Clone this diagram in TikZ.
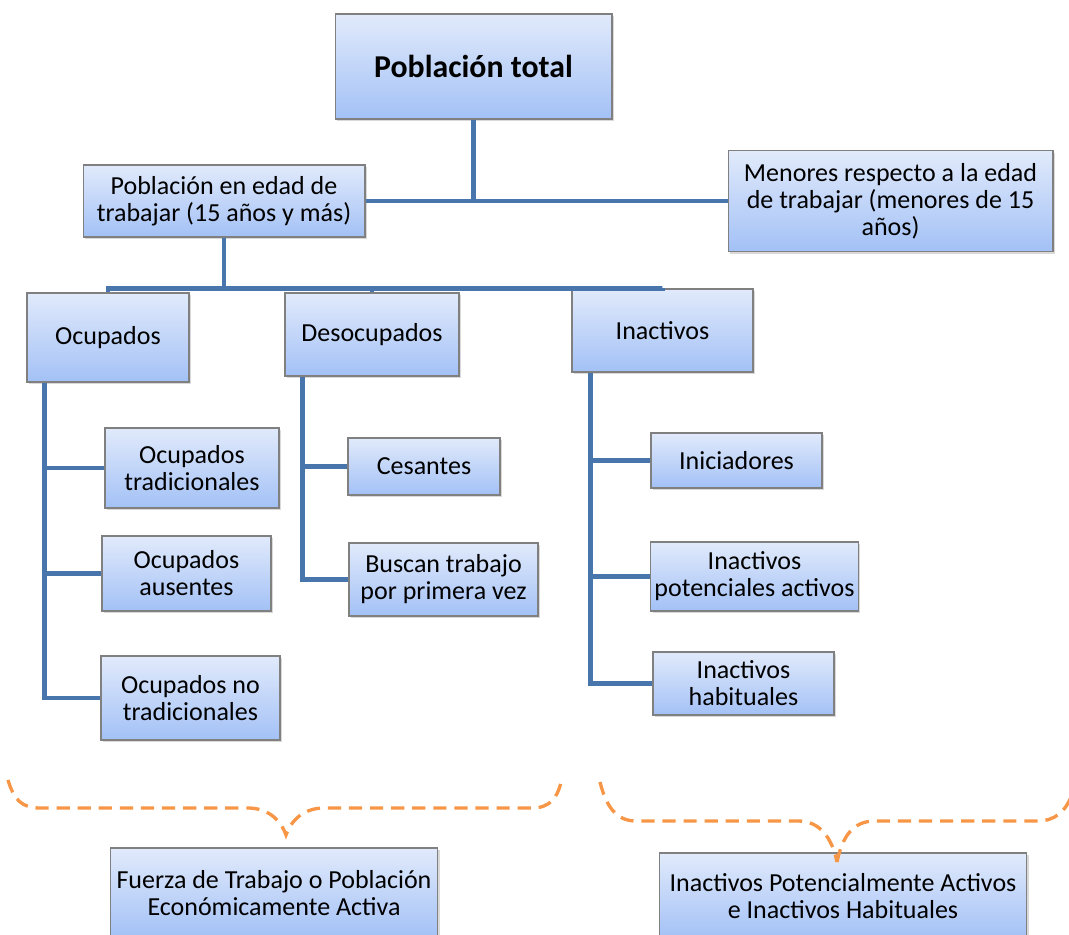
\documentclass[tikz,border=0pt]{standalone}
\usepackage{fontspec}
\setmainfont{Carlito}
\usetikzlibrary{shadows,calc}

\definecolor{boxTop}{RGB}{225,234,251}
\definecolor{boxBottom}{RGB}{163,193,246}
\definecolor{boxBorder}{RGB}{128,128,128}
\definecolor{linkBlue}{RGB}{72,117,172}
\definecolor{braceOrange}{RGB}{247,150,70}

\begin{document}
\begin{tikzpicture}[x=0.02cm, y=-0.02cm]
    \tikzstyle{block} = [ shape=rectangle, draw=boxBorder, line width=0.6pt, top color=boxTop, bottom color=boxBottom, inner sep=2pt, align=center, font=\fontsize{14.8}{15.4}\selectfont, drop shadow={shadow xshift=1.2pt, shadow yshift=-1.2pt, opacity=0.3} ];
    \tikzstyle{link} = [ draw=linkBlue, line width=2.7pt ];
    \tikzstyle{brace} = [ draw=braceOrange, line width=1.9pt, dash pattern=on 7.5pt off 4.5pt ];

    \clip (0,0) rectangle (1069,935);

    \node (nPoblacionTotal) [block, minimum width=5.54cm, minimum height=2.10cm, font=\fontsize{18.1}{20}\selectfont\bfseries] at (473.5,66.5) {Población total};
    \node (nEdadTrabajar) [block, minimum width=5.64cm, minimum height=1.44cm] at (224,201) {Población en edad de\\trabajar (15 años y más)};
    \node (nMenores) [block, minimum width=6.50cm, minimum height=2.02cm] at (890.5,201) {Menores respecto a la edad\\de trabajar (menores de 15\\años)};
    \draw [link] (nPoblacionTotal.south) |- (nEdadTrabajar.east);
    \draw [link] (nPoblacionTotal.south) |- (nMenores.west);

    \node (nOcupados) [block, minimum width=3.24cm, minimum height=1.78cm] at (108,337.5) {Ocupados};
    \node (nDesocupados) [block, minimum width=3.48cm, minimum height=1.66cm] at (372,334.5) {Desocupados};
    \node (nInactivos) [block, minimum width=3.62cm, minimum height=1.66cm] at (662.5,330.5) {Inactivos};
    \draw [link] (nEdadTrabajar.south) -- ++(0,51) -| (nOcupados.north);
    \draw [link] (nEdadTrabajar.south) -- ++(0,51) -| (nDesocupados.north);
    \draw [link] (nEdadTrabajar.south) -- ++(0,51) -| (nInactivos.north);

    \node (nOcTradicionales) [block, minimum width=3.48cm, minimum height=1.60cm] at (192,468) {Ocupados\\tradicionales};
    \node (nOcAusentes) [block, minimum width=3.38cm, minimum height=1.50cm] at (186.5,573.5) {Ocupados\\ausentes};
    \node (nOcNoTradicionales) [block, minimum width=3.58cm, minimum height=1.68cm] at (190.5,698) {Ocupados no\\tradicionales};
    \draw [link] ($(nOcupados.south west)+(18,0)$) |- (nOcTradicionales.west);
    \draw [link] ($(nOcupados.south west)+(18,0)$) |- (nOcAusentes.west);
    \draw [link] ($(nOcupados.south west)+(18,0)$) |- (nOcNoTradicionales.west);

    \node (nCesantes) [block, minimum width=3.04cm, minimum height=1.14cm] at (424,466.5) {Cesantes};
    \node (nBuscanTrabajo) [block, minimum width=3.78cm, minimum height=1.46cm] at (443.5,579.5) {Buscan trabajo\\por primera vez};
    \draw [link] ($(nDesocupados.south west)+(18,0)$) |- (nCesantes.west);
    \draw [link] ($(nDesocupados.south west)+(18,0)$) |- (nBuscanTrabajo.west);

    \node (nIniciadores) [block, minimum width=3.42cm, minimum height=1.10cm] at (736.5,460.5) {Iniciadores};
    \node (nInPotenciales) [block, minimum width=4.14cm, minimum height=1.38cm] at (754.5,576.5) {Inactivos\\potenciales activos};
    \node (nInHabituales) [block, minimum width=3.62cm, minimum height=1.26cm] at (743.5,683.5) {Inactivos\\habituales};
    \draw [link] ($(nInactivos.south west)+(19,0)$) |- (nIniciadores.west);
    \draw [link] ($(nInactivos.south west)+(19,0)$) |- (nInPotenciales.west);
    \draw [link] ($(nInactivos.south west)+(19,0)$) |- (nInHabituales.west);

    \node (nFuerzaTrabajo) [block, minimum width=6.56cm, minimum height=1.80cm] at (274,893) {Fuerza de Trabajo o Población\\Económicamente Activa};
    \node (nInPotHabituales) [block, minimum width=7.36cm, minimum height=1.72cm] at (843,896) {Inactivos Potencialmente Activos\\e Inactivos Habituales};

    % llaves
    \draw [brace] (8,780) .. controls (14,800) and (22,808) .. (40,808) -- (248,808) .. controls (266,808) and (280,818) .. (286,835) .. controls (292,818) and (306,808) .. (324,808) -- (532,808) .. controls (550,808) and (558,798) .. (562,778);
    \draw [brace] (600,782) .. controls (606,806) and (616,821) .. (636,821) -- (798,821) .. controls (820,821) and (832,838) .. (837,862);
    \draw [brace] (837,862) .. controls (842,838) and (852,821) .. (875,821) -- (1037,821) .. controls (1055,821) and (1065,812) .. (1072,795);
\end{tikzpicture}
\end{document}
